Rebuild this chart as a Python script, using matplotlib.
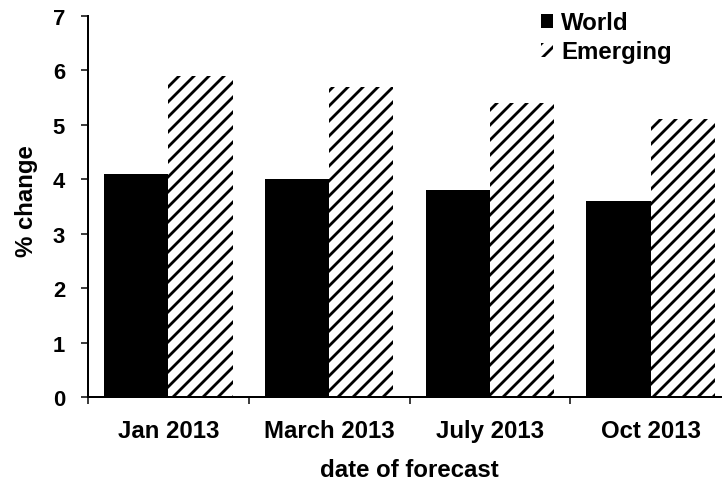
import matplotlib
matplotlib.use("Agg")
import matplotlib.pyplot as plt
import numpy as np

categories = ["Jan 2013", "March 2013", "July 2013", "Oct 2013"]
world = [4.1, 4.0, 3.8, 3.6]
emerging = [5.9, 5.7, 5.4, 5.1]
yticks = [0, 1, 2, 3, 4, 5, 6, 7]

DPI = 90
def px(p):
    return p * 72.0 / DPI

plt.rcParams['font.family'] = ['Liberation Sans', 'DejaVu Sans']
plt.rcParams['font.weight'] = 'bold'
plt.rcParams['hatch.linewidth'] = px(2.8)
plt.rcParams['hatch.color'] = 'black'

fig = plt.figure(figsize=(722/DPI, 483/DPI), dpi=DPI)
ax = fig.add_axes([88/722, 85/483, (731-88)/722, 381/483])

x = np.arange(len(categories))
w = 0.4
ax.bar(x - w/2, world, width=w, color='black', edgecolor='black', linewidth=0, label='World')
ax.bar(x + w/2, emerging, width=w, color='white', edgecolor='black', linewidth=0, hatch='//', label='Emerging')

ax.set_xlim(-0.5, len(categories) - 0.5)
ax.set_ylim(0, 7)
ax.set_yticks(yticks)
ax.set_yticklabels([str(t) for t in yticks], fontsize=px(22), fontweight='bold')

ax.set_xticks(x)
ax.set_xticklabels(categories, fontsize=px(24), fontweight='bold')
ax.tick_params(axis='x', which='major', length=0, pad=px(22))
ax.set_xticks(np.arange(-0.5, len(categories) + 0.5, 1.0), minor=True)
ax.tick_params(axis='x', which='minor', length=px(7), width=px(1.5), direction='out')
ax.tick_params(axis='y', which='major', length=px(7), width=px(1.5), direction='out', pad=px(16))

for s in ['top', 'right']:
    ax.spines[s].set_visible(False)
for s in ['left', 'bottom']:
    ax.spines[s].set_linewidth(px(2))

ax.set_xlabel("date of forecast", fontsize=px(24), fontweight='bold', labelpad=px(16))
ax.set_ylabel("% change", fontsize=px(24), fontweight='bold')
ax.yaxis.set_label_coords(-0.078, 0.517)

leg = ax.legend(loc='upper left', bbox_to_anchor=((541-88)/643, 1.012), frameon=False,
                fontsize=px(24), handlelength=0.5, handleheight=0.5, handletextpad=0.35,
                labelspacing=0.25, borderaxespad=0, borderpad=0)
for t in leg.get_texts():
    t.set_fontweight('bold')

fig.savefig("out.png", dpi=DPI)
